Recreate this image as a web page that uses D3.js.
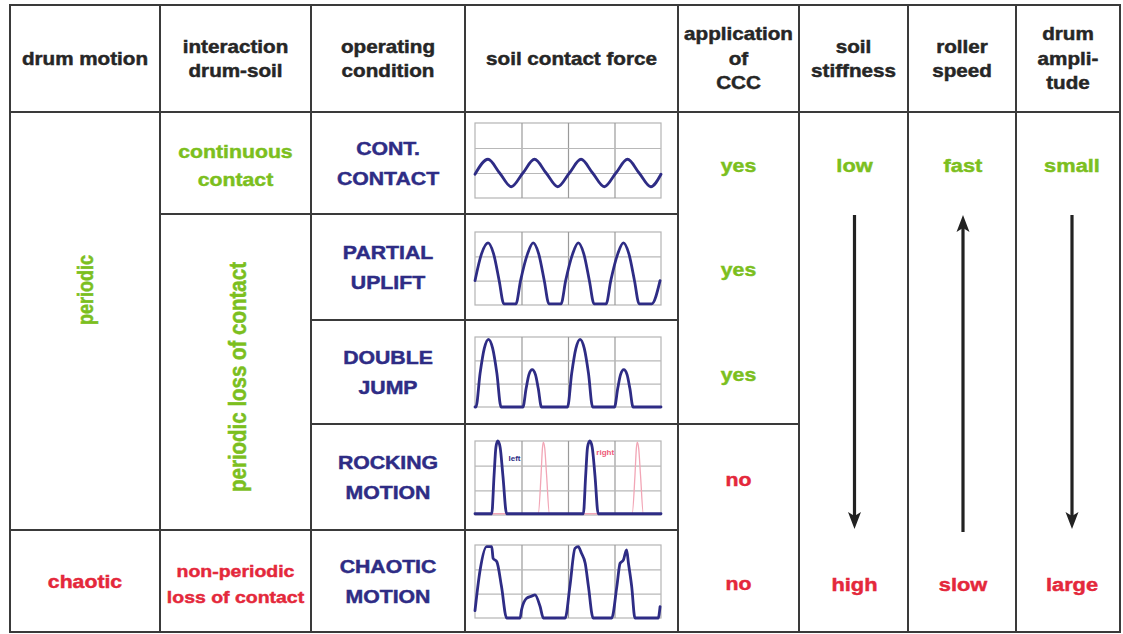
<!DOCTYPE html>
<html><head><meta charset="utf-8">
<script src="https://cdn.jsdelivr.net/npm/d3@7"></script>
<style>body{margin:0;background:#fff} svg{display:block}</style>
</head><body>
<svg id="c" width="1123" height="634"></svg>
<script>
// ---------- data ----------
const headers = [["drum motion"], ["interaction", "drum-soil"], ["operating", "condition"], ["soil contact force"], ["application", "of", "CCC"], ["soil", "stiffness"], ["roller", "speed"], ["drum", "ampli-", "tude"]];
const drumMotion = [{ lines: ["periodic"], from: 1, to: 4, tone: "good", rotate: true }, { lines: ["chaotic"], from: 5, to: 5, tone: "bad" }];
const interaction = [{ lines: ["continuous", "contact"], from: 1, to: 1, tone: "good" }, { lines: ["periodic loss of contact"], from: 2, to: 4, tone: "good", rotate: true }, { lines: ["non-periodic", "loss of contact"], from: 5, to: 5, tone: "bad" }];
const operatingConditions = [["CONT.", "CONTACT"], ["PARTIAL", "UPLIFT"], ["DOUBLE", "JUMP"], ["ROCKING", "MOTION"], ["CHAOTIC", "MOTION"]];
const cccApplication = ["yes", "yes", "yes", "no", "no"];
const cccGroups = [[1, 3], [4, 5]];
const trends = [{ top: "low", bottom: "high", dir: "down" }, { top: "fast", bottom: "slow", dir: "up" }, { top: "small", bottom: "large", dir: "down" }];

// soil contact force traces: [time in grid periods (0-4), force in grid units (0-3)]
const contContact = [[0,0.95],[0.28,1.55],[0.53,1.0],[0.78,0.45],[1.03,1.0],[1.28,1.55],[1.53,1.0],[1.78,0.45],[2.03,1.0],[2.28,1.55],[2.53,1.0],[2.78,0.45],[3.03,1.0],[3.28,1.55],[3.53,1.0],[3.78,0.45],[4.0,0.95]];
const partialUplift = [[0,1.0],[0.14,2.1],[0.28,2.55],[0.40,2.1],[0.52,1.0],[0.62,0.05],[0.88,0.05],[0.98,1.0],[1.13,2.1],[1.25,2.55],[1.37,2.1],[1.49,1.0],[1.59,0.05],[1.85,0.05],[1.95,1.0],[2.10,2.1],[2.22,2.55],[2.34,2.1],[2.46,1.0],[2.56,0.05],[2.82,0.05],[2.92,1.0],[3.07,2.1],[3.19,2.55],[3.31,2.1],[3.43,1.0],[3.53,0.05],[3.80,0.05],[3.98,1.0]];
const doubleJump = [[0,0],[0.02,0],[0.11,1.45],[0.20,2.51],[0.29,2.9],[0.38,2.51],[0.47,1.45],[0.56,0],[1.03,0],[1.10,0.8],[1.16,1.39],[1.23,1.6],[1.30,1.39],[1.36,0.8],[1.43,0],[1.99,0],[2.08,1.45],[2.17,2.51],[2.26,2.9],[2.35,2.51],[2.44,1.45],[2.53,0],[3.0,0],[3.07,0.8],[3.13,1.39],[3.2,1.6],[3.27,1.39],[3.33,0.8],[3.4,0],[4,0]];
const rockingLeft = [[0,0.05],[0.36,0.05],[0.41,1.6],[0.45,2.75],[0.49,3.0],[0.54,2.75],[0.60,1.6],[0.68,0.05],[2.33,0.05],[2.38,1.6],[2.42,2.75],[2.47,3.0],[2.52,2.75],[2.58,1.6],[2.65,0.05],[4,0.05]];
const rockingRight = [[0,0.05],[1.36,0.05],[1.42,1.6],[1.45,2.7],[1.47,2.95],[1.50,2.7],[1.54,1.6],[1.60,0.05],[3.38,0.05],[3.44,1.6],[3.47,2.7],[3.49,2.95],[3.52,2.7],[3.56,1.6],[3.62,0.05],[4,0.05]];
const chaoticMotion = [[0,0.3],[0.11,1.97],[0.25,2.93],[0.36,2.93],[0.39,2.45],[0.47,2.31],[0.57,1.29],[0.68,0],[0.97,0],[1.0,0.33],[1.11,0.81],[1.22,0.9],[1.29,0.95],[1.4,0.47],[1.47,0],[1.94,0],[2.04,1.29],[2.15,2.86],[2.22,2.93],[2.29,2.66],[2.37,2.25],[2.44,1.29],[2.54,0],[2.94,0],[3.05,1.29],[3.12,2.25],[3.19,2.38],[3.26,2.8],[3.30,2.25],[3.37,1.29],[3.44,0],[3.94,0],[3.98,0.47]];
const traces = [[{ pts: contContact, kind: "main" }], [{ pts: partialUplift, kind: "main" }], [{ pts: doubleJump, kind: "main" }], [{ pts: rockingRight, kind: "alt", label: "right", at: [2.8, 2.45] }, { pts: rockingLeft, kind: "main", label: "left", at: [0.85, 2.2] }], [{ pts: chaoticMotion, kind: "main" }]];

// ---------- layout / style ----------
const colEdges = [10, 160, 311, 465, 678, 799, 908, 1016, 1120];
const rowEdges = [5, 112, 214, 320, 424, 530, 632];
const chartInset = [[11, 75], [18, 73], [17, 70], [17, 74], [15, 73]];
const SX = 1.18;
const C = { head: "#262626", good: "#7cbf1e", bad: "#e4283b", navy: "#2e2c85", line: "#3a3a3a" };
const FONT = "'Liberation Sans', Arial, sans-serif";

const svg = d3.select("#c");
svg.append("rect").attr("width", 1123).attr("height", 634).attr("fill", "#fff");
const cx = i => (colEdges[i] + colEdges[i + 1]) / 2;
const cy = (a, b) => (rowEdges[a] + rowEdges[b + 1]) / 2;

function txt(x, y, s, size, color, rot) {
  const g = svg.append("g").attr("transform", `translate(${x},${y}) scale(${SX},1)` + (rot ? " rotate(-90)" : ""));
  g.append("text").attr("text-anchor", "middle").attr("dy", "0.36em")
    .attr("font-family", FONT).attr("font-weight", "bold").attr("font-size", size)
    .attr("fill", color).attr("stroke", color).attr("stroke-width", 0.45).text(s);
}
function lines(x, y, arr, size, color, lh, rot) {
  arr.forEach((s, i) => txt(x, y + (i - (arr.length - 1) / 2) * lh, s, size, color, rot));
}

// borders
const cells = [];
for (let c = 0; c < 8; c++) cells.push([c, 0, 0]);
drumMotion.forEach(d => cells.push([0, d.from, d.to]));
interaction.forEach(d => cells.push([1, d.from, d.to]));
operatingConditions.forEach((d, i) => { cells.push([2, i + 1, i + 1]); cells.push([3, i + 1, i + 1]); });
cccGroups.forEach(g => cells.push([4, g[0], g[1]]));
trends.forEach((d, i) => cells.push([5 + i, 1, 5]));
svg.append("g").selectAll("rect").data(cells).join("rect")
  .attr("x", d => colEdges[d[0]]).attr("y", d => rowEdges[d[1]])
  .attr("width", d => colEdges[d[0] + 1] - colEdges[d[0]])
  .attr("height", d => rowEdges[d[2] + 1] - rowEdges[d[1]])
  .attr("fill", "none").attr("stroke", C.line).attr("stroke-width", 2);

// header
headers.forEach((h, i) => lines(cx(i), 58.5, h, 17.5, C.head, 24.5));

// drum motion / interaction
drumMotion.forEach(d => {
  const y = d.rotate ? 290 : cy(d.from, d.to) + 1;
  lines(cx(0), y, d.lines, 18, C[d.tone], 26, d.rotate);
});
interaction.forEach(d => {
  const rot = d.rotate;
  const y = rot ? 377 : cy(d.from, d.to) + 3;
  const size = d.tone === "bad" ? 16.5 : (rot ? 20.5 : 18);
  const lh = d.tone === "bad" ? 26 : 28;
  lines(cx(1) + (rot ? 1.5 : 0), y, d.lines, size, C[d.tone], lh, rot);
});
// operating condition
operatingConditions.forEach((d, i) => lines(cx(2), cy(i + 1, i + 1) + 1, d, 18, C.navy, 30));
// CCC
cccApplication.forEach((d, i) => txt(cx(4), cy(i + 1, i + 1) + 3, d, 18, d === "yes" ? C.good : C.bad));

// trends with arrows
trends.forEach((d, i) => {
  const x = cx(5 + i) + (i === 2 ? 4 : 1);
  txt(x, 165, d.top, 18.5, C.good);
  txt(x, 584, d.bottom, 18.5, C.bad);
  const y0 = 215, y1 = 529;
  const tip = d.dir === "down" ? y1 : y0, tail = d.dir === "down" ? y0 : y1 + 3;
  const s = d.dir === "down" ? -1 : 1;
  svg.append("line").attr("x1", x).attr("x2", x).attr("y1", tail).attr("y2", tip + s * 10)
    .attr("stroke", "#222").attr("stroke-width", 3.2);
  svg.append("path").attr("d", `M${x},${tip} L${x - 6.5},${tip + s * 17} L${x},${tip + s * 13} L${x + 6.5},${tip + s * 17} Z`).attr("fill", "#222");
});

// soil contact force mini charts
traces.forEach((set, i) => {
  const top = rowEdges[i + 1] + chartInset[i][0], h = chartInset[i][1];
  const x = d3.scaleLinear([0, 4], [475, 661]);
  const y = d3.scaleLinear([0, 3], [top + h, top]);
  const g = svg.append("g");
  g.append("rect").attr("x", 475).attr("y", top).attr("width", 186).attr("height", h)
    .attr("fill", "#fff").attr("stroke", "#b4b4b4").attr("stroke-width", 1.2);
  g.append("g").attr("transform", `translate(0,${top + h})`)
    .call(d3.axisBottom(x).tickValues([1, 2, 3]).tickSize(-h).tickFormat(""))
    .call(a => a.select(".domain").remove())
    .call(a => a.selectAll("line").attr("stroke", "#9a9a9a").attr("stroke-width", 1.2));
  g.append("g").attr("transform", `translate(475,0)`)
    .call(d3.axisLeft(y).tickValues([1, 2]).tickSize(-186).tickFormat(""))
    .call(a => a.select(".domain").remove())
    .call(a => a.selectAll("line").attr("stroke", "#b8b8b8").attr("stroke-width", 1.1));
  const line = d3.line().x(d => x(d[0])).y(d => y(d[1])).curve(d3.curveMonotoneX);
  set.forEach(s => {
    g.append("path").attr("d", line(s.pts)).attr("fill", "none")
      .attr("stroke", s.kind === "main" ? C.navy : "#f2a6b6")
      .attr("stroke-width", s.kind === "main" ? 2.8 : 1.3)
      .attr("stroke-linejoin", "round").attr("stroke-linecap", "round");
    if (s.label) {
      g.append("text").attr("x", x(s.at[0])).attr("y", y(s.at[1])).attr("text-anchor", "middle")
        .attr("font-family", FONT).attr("font-weight", "bold").attr("font-size", 8)
        .attr("fill", s.kind === "main" ? C.navy : "#ee5a78").text(s.label);
    }
  });
});
</script>
</body></html>
